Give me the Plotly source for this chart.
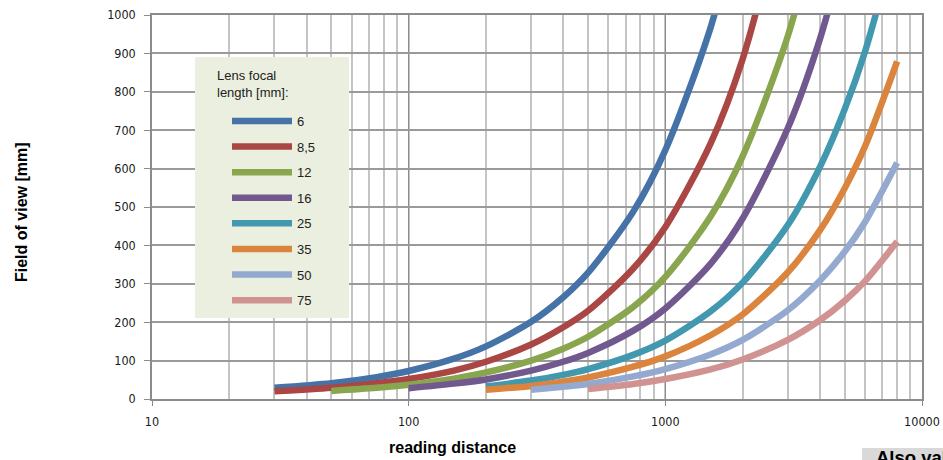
import plotly.graph_objects as go

# ---- data ----
lens_labels = ["6", "8,5", "12", "16", "25", "35", "50", "75"]
colors = ["#4572A7", "#AA4643", "#89A54E", "#71588F", "#4198AF", "#DB843D", "#93A9CF", "#D19392"]

d_6 = [30, 50, 75, 100, 150, 200, 300, 400, 500, 750, 1000, 1500, 2000]
fov_6 = [29, 41, 57, 73, 105, 137, 201, 265, 329, 488, 648, 967, 1286]

d_8_5 = [30, 50, 75, 100, 150, 200, 300, 400, 500, 750, 1000, 1500, 2000, 3000]
fov_8_5 = [20, 29, 41, 52, 74, 97, 142, 187, 230, 340, 448, 665, 885, 1330]

d_12 = [50, 75, 100, 150, 200, 300, 400, 500, 750, 1000, 1500, 2000, 3000, 4000]
fov_12 = [21, 29, 37, 53, 69, 100, 131, 162, 240, 318, 475, 632, 945, 1262]

d_16 = [100, 150, 200, 300, 400, 500, 750, 1000, 1500, 2000, 3000, 4000, 5000]
fov_16 = [28, 40, 51, 74, 97, 120, 178, 236, 352, 470, 705, 937, 1172]

d_25 = [200, 300, 400, 500, 750, 1000, 1500, 2000, 3000, 4000, 5000, 6000, 8000]
fov_25 = [33, 48, 63, 78, 115, 152, 228, 303, 453, 604, 755, 905, 1207]

d_35 = [200, 300, 400, 500, 750, 1000, 1500, 2000, 3000, 4000, 5000, 6000, 8000]
fov_35 = [24, 34, 45, 56, 84, 111, 166, 220, 330, 439, 549, 658, 879]

d_50 = [300, 400, 500, 750, 1000, 1500, 2000, 3000, 4000, 5000, 6000, 8000]
fov_50 = [24, 32, 39, 59, 78, 116, 154, 231, 308, 384, 461, 615]

d_75 = [500, 750, 1000, 1500, 2000, 3000, 4000, 5000, 6000, 8000]
fov_75 = [26, 39, 52, 77, 103, 154, 205, 256, 307, 410]

series_x = [d_6, d_8_5, d_12, d_16, d_25, d_35, d_50, d_75]
series_y = [fov_6, fov_8_5, fov_12, fov_16, fov_25, fov_35, fov_50, fov_75]

x_tickvals = [10, 100, 1000, 10000]
x_ticktext = ["10", "100", "1000", "10000"]

legend_title = "Lens focal<br>length [mm]:"
x_title = "reading distance"
y_title = "Field of view [mm]"
note_text = "Also valid for"

# ---- figure geometry ----
W, H = 943, 460
L, R, T, B = 152, 21, 15, 61
PW, PH = W - L - R, H - T - B


def px_x(p):
    return (p - L) / PW


def px_y(p):
    return (H - B - p) / PH


fig = go.Figure()
for i, (xs, ys) in enumerate(zip(series_x, series_y)):
    fig.add_trace(go.Scatter(
        x=xs, y=ys, mode="lines", name=lens_labels[i],
        line=dict(color=colors[i], width=6.5, shape="spline", smoothing=0.8),
        legendgroup=f"g{i}",
    ))

tick_font = dict(family="DejaVu Sans Condensed, Liberation Sans Narrow, Liberation Sans, Arial", size=12.5, color="#1a1a1a")
bold_font = dict(family="Liberation Sans, Arial", size=16, color="#000000")

fig.update_layout(
    width=W, height=H,
    margin=dict(l=L, r=R, t=T, b=B, pad=0, autoexpand=False),
    paper_bgcolor="white", plot_bgcolor="white",
    showlegend=True,
    legend=dict(
        x=px_x(227), y=px_y(106),
        xanchor="left", yanchor="top",
        bgcolor="rgba(0,0,0,0)", borderwidth=0,
        font=dict(family="Liberation Sans, Arial", size=13, color="#222"),
        traceorder="grouped", tracegroupgap=5.7, itemwidth=60,
    ),
    shapes=[
        dict(type="rect", xref="paper", yref="paper",
             x0=px_x(195), x1=px_x(349), y0=px_y(318), y1=px_y(57),
             fillcolor="#EBEFDF", line=dict(width=0), layer="above"),
        dict(type="rect", xref="paper", yref="paper",
             x0=px_x(862), x1=px_x(960), y0=px_y(480), y1=px_y(448),
             fillcolor="#D9D9D9", line=dict(width=0), layer="above"),
    ],
    xaxis=dict(
        type="log", range=[1, 4], automargin=False,
        tickvals=x_tickvals, ticktext=x_ticktext,
        tickfont=tick_font, ticks="outside", ticklen=5, tickcolor="#888",
        ticklabelstandoff=5,
        showgrid=True, gridcolor="#8c8c8c", gridwidth=1.2,
        minor=dict(dtick="D1", showgrid=True, gridcolor="#c4c4c4", gridwidth=1.5, ticks=""),
        showline=True, linecolor="#8c8c8c", linewidth=1.5, mirror=True,
        zeroline=False,
    ),
    yaxis=dict(
        range=[0, 1000], dtick=100, automargin=False,
        tickfont=tick_font, ticks="outside", ticklen=6, tickcolor="#8c8c8c",
        ticklabelstandoff=6,
        showgrid=True, gridcolor="#9a9a9a", gridwidth=1.5,
        showline=True, linecolor="#8c8c8c", linewidth=1.5, mirror=True,
        zeroline=False,
    ),
    annotations=[
        dict(text=legend_title, xref="paper", yref="paper",
             x=px_x(215), y=px_y(66), xanchor="left", yanchor="top", align="left",
             showarrow=False, font=dict(family="Liberation Sans, Arial", size=13, color="#222")),
        dict(text=f"<b>{y_title}</b>", xref="paper", yref="paper",
             x=px_x(22), y=px_y(212), textangle=-90,
             showarrow=False, font=bold_font, xanchor="center", yanchor="middle"),
        dict(text=f"<b>{x_title}</b>", xref="paper", yref="paper",
             x=px_x(452), y=px_y(447),
             showarrow=False, font=bold_font, xanchor="center", yanchor="middle"),
        dict(text=f"<b>{note_text}</b>", xref="paper", yref="paper",
             x=px_x(875), y=px_y(446),
             showarrow=False, font=dict(family="Liberation Sans, Arial", size=18.5, color="#000"),
             xanchor="left", yanchor="top", borderpad=0),
    ],
)

fig.write_html(
    "out.html",
    config={"displayModeBar": False},
    post_script="document.body.style.margin='0';document.body.style.overflow='hidden';",
)
